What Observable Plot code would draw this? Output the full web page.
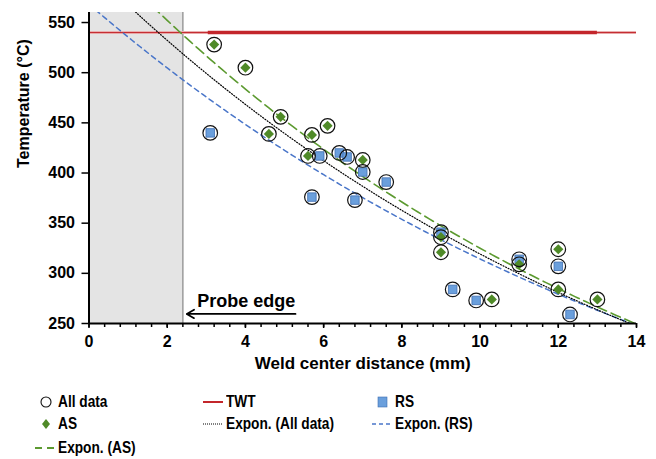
<!DOCTYPE html>
<html><head><meta charset="utf-8">
<script src="https://cdn.jsdelivr.net/npm/d3@7"></script>
<script src="https://cdn.jsdelivr.net/npm/@observablehq/plot@0.6"></script>
<style>
body{margin:0;background:#fff;font-family:"Liberation Sans",Arial,sans-serif;}
#wrap{position:relative;width:656px;height:459px;}
.lg{position:absolute;font-weight:bold;font-size:16.5px;color:#000;display:flex;align-items:center;white-space:nowrap;}
.lg svg{margin-right:1px;flex:none;}
.lg span{display:inline-block;transform:scaleX(0.83);transform-origin:left center;}
</style></head>
<body><div id="wrap"><div id="chart"></div><div id="legend"></div></div>
<script>
// AS series (green diamonds)
const asX = [3.2, 4.0, 4.9, 4.6, 6.1, 5.7, 5.6, 7.0, 9.0, 9.0, 11.0, 10.3, 12.0, 12.0, 13.0];
const asY = [528, 505, 456, 439, 447, 438, 417, 413, 336, 321, 309, 274, 324, 284, 274];
// RS series (blue squares)
const rsX = [3.1, 5.9, 6.4, 6.6, 7.0, 7.6, 5.7, 6.8, 9.0, 9.3, 9.9, 11.0, 12.0, 12.3];
const rsY = [440, 417, 420, 416, 401, 391, 376, 373, 341, 284, 273, 314, 307, 259];
// TWT
const twtValue = 540;
const twtX = [3.05, 13.0];
const probeEdge = 2.4;
const xTicks = [0, 2, 4, 6, 8, 10, 12, 14];
const yTicks = [250, 300, 350, 400, 450, 500, 550];

const AS = asX.map((x, i) => ({x, y: asY[i]}));
const RS = rsX.map((x, i) => ({x, y: rsY[i]}));
const ALL = AS.concat(RS);

// Excel-style exponential trendline: least squares on ln(y)
function expFit(pts) {
  const mx = d3.mean(pts, d => d.x), my = d3.mean(pts, d => Math.log(d.y));
  let sxy = 0, sxx = 0;
  for (const p of pts) { sxy += (p.x - mx) * (Math.log(p.y) - my); sxx += (p.x - mx) ** 2; }
  const b = sxy / sxx, a = Math.exp(my - b * mx);
  return d3.range(0, 14.0001, 0.1).map(x => ({x, y: a * Math.exp(b * x)}));
}
const fitAll = expFit(ALL), fitAS = expFit(AS), fitRS = expFit(RS);

const minorX = d3.range(0, 14.001, 0.4).map(v => +v.toFixed(2));
const blue = "#6a9fdc", blueEdge = "#3f6fb2", green = "#4f8a28", red = "#c3262b";
const F = "Liberation Sans, Arial, sans-serif";

const chart = Plot.plot({
  width: 656, height: 378,
  marginLeft: 88.5, marginRight: 20, marginTop: 12, marginBottom: 55,
  style: {fontFamily: F, background: "white"},
  x: {domain: [0, 14]},
  y: {domain: [250, 560]},
  marks: [
    Plot.rectX([{x1: 0, x2: probeEdge}], {x1: "x1", x2: "x2", y1: 250, y2: 560, fill: "#e4e4e4"}),
    Plot.ruleX([probeEdge], {stroke: "#9a9a9a", strokeWidth: 1.5}),
    Plot.ruleY([twtValue], {x1: 0, x2: 14, stroke: "#eab0b0", strokeWidth: 3}),
    Plot.ruleY([twtValue], {x1: 0, x2: 14, stroke: red, strokeWidth: 1}),
    Plot.ruleY([twtValue], {x1: twtX[0], x2: twtX[1], stroke: red, strokeWidth: 3.5}),
    Plot.line(fitRS, {x: "x", y: "y", stroke: "#4a76c9", strokeWidth: 1.5, strokeDasharray: "5,4", clip: true}),
    Plot.line(fitAll, {x: "x", y: "y", stroke: "#000", strokeWidth: 1.2, strokeDasharray: "1,1.8", clip: true}),
    Plot.line(fitAS, {x: "x", y: "y", stroke: "#5c9a30", strokeWidth: 1.6, strokeDasharray: "10,5", clip: true}),
    Plot.dot(RS, {x: "x", y: "y", symbol: "square", r: 4.8, fill: blue, stroke: blueEdge, strokeWidth: 0.8}),
    Plot.dot(AS, {x: "x", y: "y", symbol: "diamond2", r: 4.6, fill: green, stroke: "none"}),
    Plot.dot(ALL, {x: "x", y: "y", r: 7.3, stroke: "#111", strokeWidth: 1.2, fill: "none"}),
    Plot.text(["Probe edge"], {x: 4.02, y: 272, fontSize: 18, fontWeight: "bold", fill: "#000", textAnchor: "middle"}),
    Plot.arrow([{x1: 5.28, x2: 2.5}], {x1: "x1", x2: "x2", y1: 259.5, y2: 259.5, stroke: "#000", strokeWidth: 1.8, headLength: 7}),
    Plot.axisX({ticks: minorX, tickSize: 4, tickFormat: () => "", label: null, strokeWidth: 1.5}),
    Plot.axisX({ticks: xTicks, tickSize: 5, tickPadding: 7, fontSize: 16, fontWeight: "bold", label: null, strokeWidth: 1.5}),
    Plot.axisY({ticks: yTicks, tickSize: 7, tickPadding: 7, fontSize: 16, fontWeight: "bold", label: null, strokeWidth: 1.5}),
    Plot.ruleY([250], {stroke: "#000", strokeWidth: 2}),
    Plot.ruleX([0], {stroke: "#000", strokeWidth: 2}),
    Plot.text(["Weld center distance (mm)"], {frameAnchor: "bottom", dy: 45, fontSize: 17, fontWeight: "bold"}),
    Plot.text(["Temperature (°C)"], {frameAnchor: "left", dx: -65, rotate: -90, fontSize: 16, fontWeight: "bold"})
  ]
});
document.getElementById("chart").appendChild(chart);

// Legend
const legendItems = [
  {label: "All data", left: 38, top: 402, sw: `<circle cx="8" cy="8" r="5" fill="none" stroke="#111" stroke-width="1.1"/>`},
  {label: "TWT", left: 203, top: 402, sw: `<line x1="0" y1="8" x2="20" y2="8" stroke="${red}" stroke-width="2"/>`},
  {label: "RS", left: 375, top: 402, sw: `<rect x="3" y="3" width="9" height="10" fill="${blue}" stroke="${blueEdge}" stroke-width="0.6"/>`},
  {label: "AS", left: 38, top: 424, sw: `<path d="M8 3 L12 8 L8 13 L4 8 Z" fill="${green}"/>`},
  {label: "Expon. (All data)", left: 203, top: 424, sw: `<line x1="0" y1="8" x2="20" y2="8" stroke="#000" stroke-width="1.2" stroke-dasharray="1,1"/>`},
  {label: "Expon. (RS)", left: 372, top: 424, sw: `<line x1="0" y1="8" x2="20" y2="8" stroke="#4a76c9" stroke-width="1.5" stroke-dasharray="4,3"/>`},
  {label: "Expon. (AS)", left: 35, top: 448, sw: `<line x1="0" y1="8" x2="20" y2="8" stroke="#5c9a30" stroke-width="1.8" stroke-dasharray="7,5"/>`}
];
const lg = document.getElementById("legend");
for (const it of legendItems) {
  const w = it.label.startsWith("Expon") || it.label === "TWT" ? 22 : 19;
  const d = document.createElement("div");
  d.className = "lg";
  d.style.left = it.left + "px";
  d.style.top = (it.top - 10) + "px";
  d.innerHTML = `<svg width="${w}" height="16" viewBox="0 0 ${w} 16">${it.sw}</svg><span>${it.label}</span>`;
  lg.appendChild(d);
}
</script></body></html>
